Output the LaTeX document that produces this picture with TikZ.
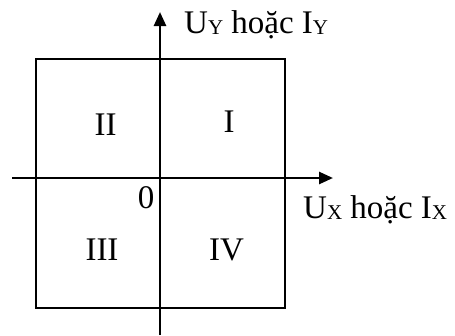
\documentclass[tikz,border=0pt]{standalone}
\usepackage{fontspec}
\setmainfont{Liberation Serif}
\usetikzlibrary{arrows.meta}
\newcommand\subcap[1]{\raisebox{-1.5pt}{\fontsize{21}{21}\selectfont #1}}
\begin{document}
\begin{tikzpicture}[x=1pt,y=-1pt,
  axis/.style={line width=2.6pt,-{Triangle[length=14pt,width=12pt]}},
  frame/.style={line width=2.6pt},
  lbl/.style={inner sep=0pt,font=\fontsize{33}{40}\selectfont},
  quad/.style={lbl,anchor=base}]
\useasboundingbox (0,0) rectangle (455,335);
\coordinate (ybot) at (160,335);
\coordinate (ytop) at (160,12);
\coordinate (xleft) at (12,178);
\coordinate (xright) at (333,178);
\coordinate (bl) at (36,308);
\coordinate (tr) at (285,59);
\draw[frame] (bl) rectangle (tr);
\draw[axis] (ybot) -- (ytop);
\draw[axis] (xleft) -- (xright);
\node[lbl,anchor=base west] (ylab) at (184,33) {U\subcap{Y} hoặc I\subcap{Y}};
\node[lbl,anchor=base west] (xlab) at (303,218) {U\subcap{X} hoặc I\subcap{X}};
\node[quad] (q2) at (105.5,135) {II};
\node[quad] (q1) at (229,132) {I};
\node[quad] (q3) at (102,260) {III};
\node[quad] (q4) at (226.5,260) {IV};
\node[quad] (o) at (146,208) {0};
\end{tikzpicture}
\end{document}
